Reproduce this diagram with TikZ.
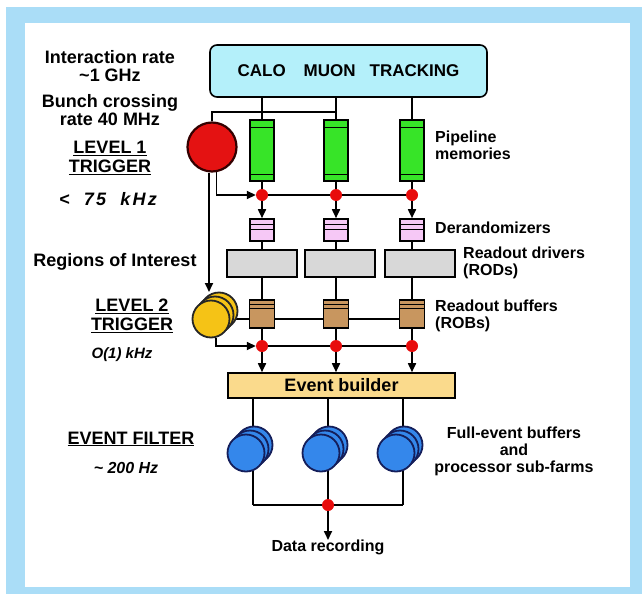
\documentclass[tikz,border=0pt]{standalone}
\usepackage{fontspec}
\setmainfont{Liberation Sans}
\usepackage{tikz}
\usetikzlibrary{arrows.meta}

\definecolor{bgblue}{RGB}{170,221,247}
\definecolor{detcyan}{RGB}{180,240,250}
\definecolor{pipegreen}{RGB}{55,228,40}
\definecolor{dotred}{RGB}{232,12,12}
\definecolor{trigred}{RGB}{228,18,18}
\definecolor{derpink}{RGB}{246,200,246}
\definecolor{rodgrey}{RGB}{216,216,216}
\definecolor{robbrown}{RGB}{200,150,95}
\definecolor{trigyellow}{RGB}{245,195,22}
\definecolor{ebfill}{RGB}{250,218,140}
\definecolor{efblue}{RGB}{52,135,235}
\definecolor{efline}{RGB}{20,30,90}

\pgfdeclarelayer{back}
\pgfdeclarelayer{wires}
\pgfsetlayers{back,wires,main}

\tikzset{
  wire/.style={line width=1.7pt},
  arr/.style={-{Triangle[length=9pt,width=8pt]}},
  lbl/.style={font=\bfseries\fontsize{18}{18.5}\selectfont, align=center, inner sep=0pt},
  side/.style={font=\bfseries\fontsize{16}{17}\selectfont, align=left, anchor=west, inner sep=0pt},
  dot/.style={circle, fill=dotred, minimum size=12pt, inner sep=0pt},
  box/.style={draw, line width=1.6pt, inner sep=0pt},
  detbox/.style={box, rounded corners=7pt, fill=detcyan, minimum width=277pt,
    minimum height=52pt, font=\bfseries\fontsize{17}{17}\selectfont},
  pipe/.style={box, fill=pipegreen, minimum width=24pt, minimum height=61pt,
    path picture={
      \draw[line width=1pt] ([yshift=-7pt]path picture bounding box.north west)
        -- ([yshift=-7pt]path picture bounding box.north east);
      \draw[line width=1pt] ([yshift=7pt]path picture bounding box.south west)
        -- ([yshift=7pt]path picture bounding box.south east);}},
  derand/.style={box, fill=derpink, minimum width=24pt, minimum height=22pt,
    path picture={
      \draw[line width=1pt] ([yshift=-5pt]path picture bounding box.north west)
        -- ([yshift=-5pt]path picture bounding box.north east);
      \draw[line width=1pt] ([yshift=-10pt]path picture bounding box.north west)
        -- ([yshift=-10pt]path picture bounding box.north east);}},
  rod/.style={box, fill=rodgrey, minimum width=70pt, minimum height=27pt},
  rob/.style={box, fill=robbrown, minimum width=25pt, minimum height=28pt,
    path picture={
      \draw[line width=1pt] ([yshift=-4pt]path picture bounding box.north west)
        -- ([yshift=-4pt]path picture bounding box.north east);
      \draw[line width=1pt] ([yshift=-8pt]path picture bounding box.north west)
        -- ([yshift=-8pt]path picture bounding box.north east);}},
  l2disk/.style={draw=black!85, line width=1.8pt, fill=trigyellow},
  efdisk/.style={draw=efline, line width=1.8pt, fill=efblue},
}

\begin{document}
\begin{tikzpicture}[x=1pt,y=-1pt]
\useasboundingbox (0,0) rectangle (642,594);
\begin{pgfonlayer}{back}
  \fill[white] (0,0) rectangle (642,594);
  \fill[bgblue] (6,7) rectangle (642,594);
  \fill[white] (25,23) rectangle (630,587);
\end{pgfonlayer}

% detectors and level 1
\node[detbox] (det) at (348.5,71) {CALO\hspace{18pt}MUON\hspace{14pt}TRACKING};
\node[circle, draw=black!80!red, line width=2.2pt, fill=trigred, minimum size=49pt, inner sep=0pt] (l1) at (212,147) {};

\foreach \c/\x in {1/262,2/336,3/412}{
  \node[pipe] (pipe\c) at (\x,150.5) {};
  \node[dot] (lod\c) at (\x,195) {};
  \node[derand] (der\c) at (\x,230) {};
  \node[rob] (rob\c) at (\x,314) {};
  \node[dot] (ltd\c) at (\x,346) {};
}
\foreach \c/\x in {1/262,2/340,3/420}
  \node[rod] (rod\c) at (\x,263.5) {};

% level 2
\foreach \o in {8,4}
  \draw[l2disk] (211+\o,319-\o) circle (18.5pt);
\node[l2disk, circle, minimum size=37pt, inner sep=0pt] (l2) at (211,319) {};
\coordinate (l2top) at (209,292);

% event builder and filter
\node[box, fill=ebfill, minimum width=227pt, minimum height=25pt,
  font=\bfseries\fontsize{18}{18}\selectfont] (eb) at (341.5,385.5) {Event builder};
\foreach \c/\x in {1/253,2/328,3/403}{
  \coordinate (efc\c) at (\x,453);
  \foreach \o in {8,4}
    \draw[efdisk] (\x-7+\o,453-\o) circle (18.5pt);
  \node[efdisk, circle, minimum size=37pt, inner sep=0pt] (ef\c) at (\x-7,453) {};
}
\node[dot] (rdot) at (328,505) {};
\node[side, anchor=north] (rec) at (328,540) {Data recording};

% labels
\node[lbl] (rate) at (110,66) {Interaction rate\\\textasciitilde1 GHz};
\node[lbl] (bunch) at (110,110) {Bunch crossing\\rate 40 MHz};
\node[lbl] (lvla) at (110,158) {\underline{LEVEL 1}\\\underline{TRIGGER}};
\node[lbl, font=\bfseries\itshape\fontsize{18}{18}\selectfont\addfontfeature{LetterSpace=12}] (lvlarate) at (108,199) {<\ \ 75\ \ kHz};
\node[lbl] (roi) at (115,262) {Regions of Interest};
\node[lbl] (lvlb) at (132,316) {\underline{LEVEL 2}\\\underline{TRIGGER}};
\node[lbl, font=\bfseries\itshape\fontsize{15}{15}\selectfont] (lvlbrate) at (122,355) {O(1) kHz};
\node[lbl] (efl) at (131,439) {\underline{EVENT FILTER}};
\node[lbl, font=\bfseries\itshape\fontsize{16}{16}\selectfont] (eflrate) at (126,468) {\textasciitilde\ 200 Hz};
\node[side] (pipelbl) at (435,145) {Pipeline\\memories};
\node[side] (derlbl) at (435,228) {Derandomizers};
\node[side] (rodlbl) at (463,263) {Readout drivers\\(RODs)};
\node[side] (roblbl) at (435,316) {Readout buffers\\(ROBs)};
\node[side, anchor=center, align=center] (farmlbl) at (514,451) {Full-event buffers\\and\\processor sub-farms};

% connections
\begin{pgfonlayer}{wires}
\foreach \c in {1,2,3}{
  \draw[wire] (det.south -| pipe\c) -- (pipe\c);
  \draw[wire] (pipe\c) -- (lod\c);
  \draw[wire,arr] (lod\c) -- (der\c.north);
  \draw[wire] (der\c) -- (der\c |- rod1.north);
  \draw[wire] (rob\c |- rod1.south) -- (rob\c);
  \draw[wire] (rob\c) -- (ltd\c);
  \draw[wire,arr] (ltd\c) -- (ltd\c |- eb.north);
  \draw[wire] (eb.south -| efc\c) -- (efc\c |- rdot);
}
\draw[wire] (l1.north) |- (pipe2.north |- 0,112);
\draw[wire,arr] (l1.-80) |- (lod1.west);
\draw[wire] (lod1) -- (lod3);
\draw[wire,arr] (l1.south -| l2top) -- (l2top);
\draw[wire] (l2) -- (l2 -| rob3);
\draw[wire,arr] (l2.-74) |- (ltd1.west);
\draw[wire] (ltd1) -- (ltd3);
\draw[wire] (efc1 |- rdot) -- (efc3 |- rdot);
\draw[wire,arr] (rdot) -- (rec.north);
\end{pgfonlayer}
\end{tikzpicture}
\end{document}
